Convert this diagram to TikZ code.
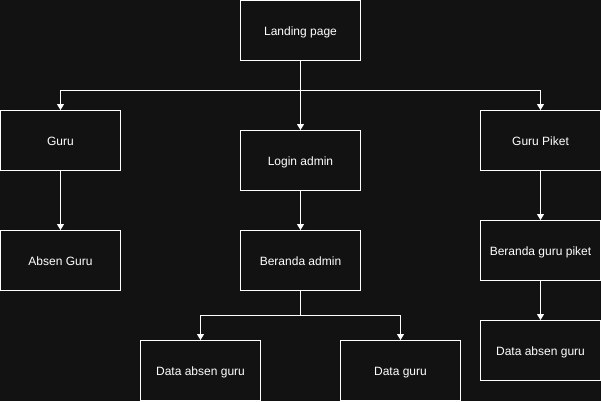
\documentclass[tikz,border=0pt]{standalone}
\usepackage{fontspec}
\setmainfont{Liberation Sans}
\usetikzlibrary{arrows.meta}
\definecolor{bg}{HTML}{121212}
\begin{document}
\begin{tikzpicture}[x=1pt,y=-1pt,
  box/.style={draw=white,line width=1pt,minimum width=120pt,minimum height=60pt,inner sep=0pt,text=white,text height=11.5pt,text depth=2pt,font=\fontsize{12}{14}\selectfont},
  conn/.style={draw=white,line width=1pt,-{Triangle[length=6pt,width=7pt]}},
  plain/.style={draw=white,line width=1pt}]
\fill[bg] (0,0) rectangle (601,401);
\useasboundingbox (0,0) rectangle (601,401);
\node[box] (landing) at (300.5,30.5) {Landing page};
\node[box] (guru) at (60.5,140.5) {Guru};
\node[box] (login) at (300.5,160.5) {Login admin};
\node[box] (piket) at (540.5,140.5) {Guru Piket};
\node[box] (absen) at (60.5,260.5) {Absen Guru};
\node[box] (beranda) at (300.5,260.5) {Beranda admin};
\node[box] (berandapiket) at (540.5,250.5) {Beranda guru piket};
\node[box] (dag) at (200.5,370.5) {Data absen guru};
\node[box] (dg) at (400.5,370.5) {Data guru};
\node[box] (dag2) at (540.5,350.5) {Data absen guru};
\coordinate (j1) at (300.5,90.5);
\coordinate (j2) at (300.5,315.5);
\draw[conn] (landing.south) -- (login.north);
\draw[conn] (j1) -| (guru.north);
\draw[conn] (j1) -| (piket.north);
\draw[conn] (guru.south) -- (absen.north);
\draw[conn] (login.south) -- (beranda.north);
\draw[conn] (piket.south) -- (berandapiket.north);
\draw[conn] (berandapiket.south) -- (dag2.north);
\draw[plain] (beranda.south) -- (j2);
\draw[conn] (j2) -| (dag.north);
\draw[conn] (j2) -| (dg.north);
\end{tikzpicture}
\end{document}
